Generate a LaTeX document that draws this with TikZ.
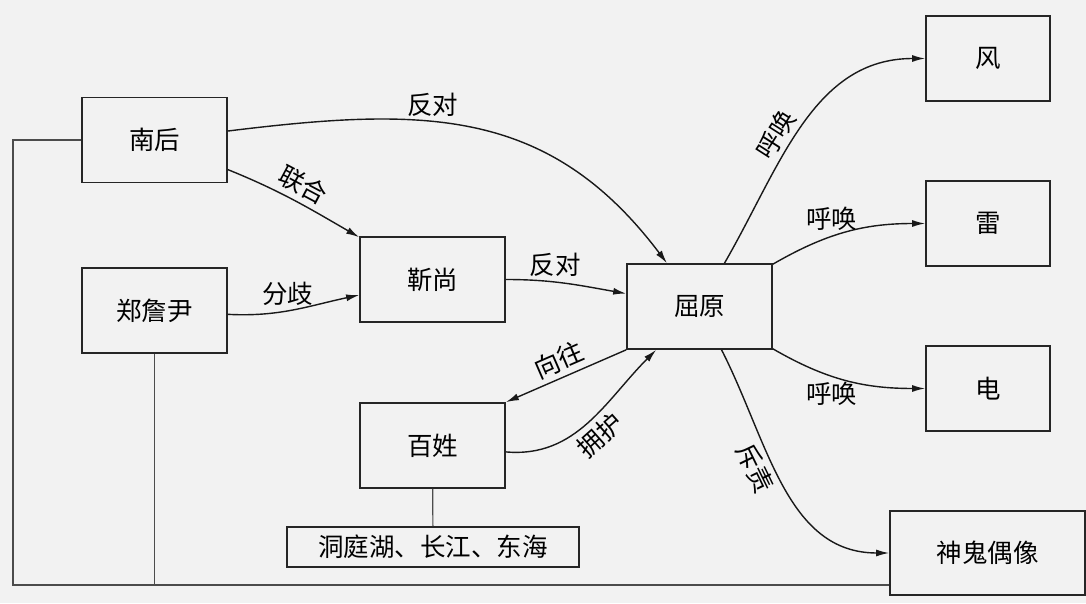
\documentclass[tikz,border=0pt]{standalone}
\usepackage{fontspec}
\newfontfamily\cjk{Noto Sans CJK SC}
\usetikzlibrary{arrows.meta,positioning}

\begin{document}
\begin{tikzpicture}[x=1pt, y=1pt, >={Latex[length=13pt,width=7pt]}]

  \tikzstyle{every node}=[font=\cjk\fontsize{25.5}{28}\selectfont, text=black, inner sep=2pt]
  \tikzstyle{role}=[draw=black!85, line width=1.7pt, minimum width=145pt, minimum height=85pt]
  \tikzstyle{force}=[role, minimum width=124pt]
  \tikzstyle{rel}=[->, line width=1.4pt, draw=black!90]
  \tikzstyle{tie}=[draw=black!70, line width=1.2pt]
  \tikzstyle{word}=[inner sep=5pt]

  \fill[black!5] (0,0) rectangle (1086,603);

  \node[role] (NANHOU) at (154.5,463) {南后};
  \node[role] (ZHENG) at (154.5,292.5) {郑詹尹};
  \node[role] (JINSHANG) at (432.5,323.5) {靳尚};
  \node[role] (QUYUAN) at (699.5,296.5) {屈原};
  \node[role] (BAIXING) at (432.5,157.5) {百姓};
  \node[role, minimum width=292pt, minimum height=40pt, inner sep=0pt] (RIVERS) at (433,56) {洞庭湖、长江、东海};
  \node[force] (FENG) at (988,544.5) {风};
  \node[force] (LEI) at (988,379.5) {雷};
  \node[force] (DIAN) at (988,214.5) {电};
  \node[role, minimum width=195pt, minimum height=84pt] (SHENGUI) at (987.5,50) {神鬼偶像};
  \coordinate (CORNER) at (13,18);

  \path (NANHOU) edge [rel, out=7, in=127, looseness=1.1] node [word, pos=0.4, above] {反对} (QUYUAN)
                 edge [rel, out=-22, in=150] node [word, pos=0.5, sloped, above] {联合} (JINSHANG);
  \path (ZHENG) edge [rel, out=-3, in=192] node [word, pos=0.45, above] {分歧} (JINSHANG);
  \path (JINSHANG) edge [rel, out=0, in=170] node [word, pos=0.4, above] {反对} (QUYUAN);
  \path (QUYUAN.south west) edge [rel] node [word, pos=0.5, sloped, above] {向往} (BAIXING.north east);
  \path (BAIXING) edge [rel, out=-5, in=225] node [word, pos=0.5, sloped, below] {拥护} (QUYUAN);
  \path (QUYUAN) edge [rel, out=60, in=180] node [word, pos=0.42, sloped, above] {呼唤} (FENG)
                 edge [rel, out=30, in=180] node [word, pos=0.4, above] {呼唤} (LEI)
                 edge [rel, out=-30, in=180] node [word, pos=0.4, below] {呼唤} (DIAN)
                 edge [rel, out=-63, in=180] node [word, pos=0.4, sloped, below] {斥责} (SHENGUI);

  \draw[tie] (BAIXING) -- (RIVERS);
  \draw[tie] (NANHOU.west) -| (CORNER) -- (SHENGUI.west |- CORNER);
  \draw[tie] (ZHENG.south) -- (ZHENG.south |- CORNER);

\end{tikzpicture}
\end{document}
